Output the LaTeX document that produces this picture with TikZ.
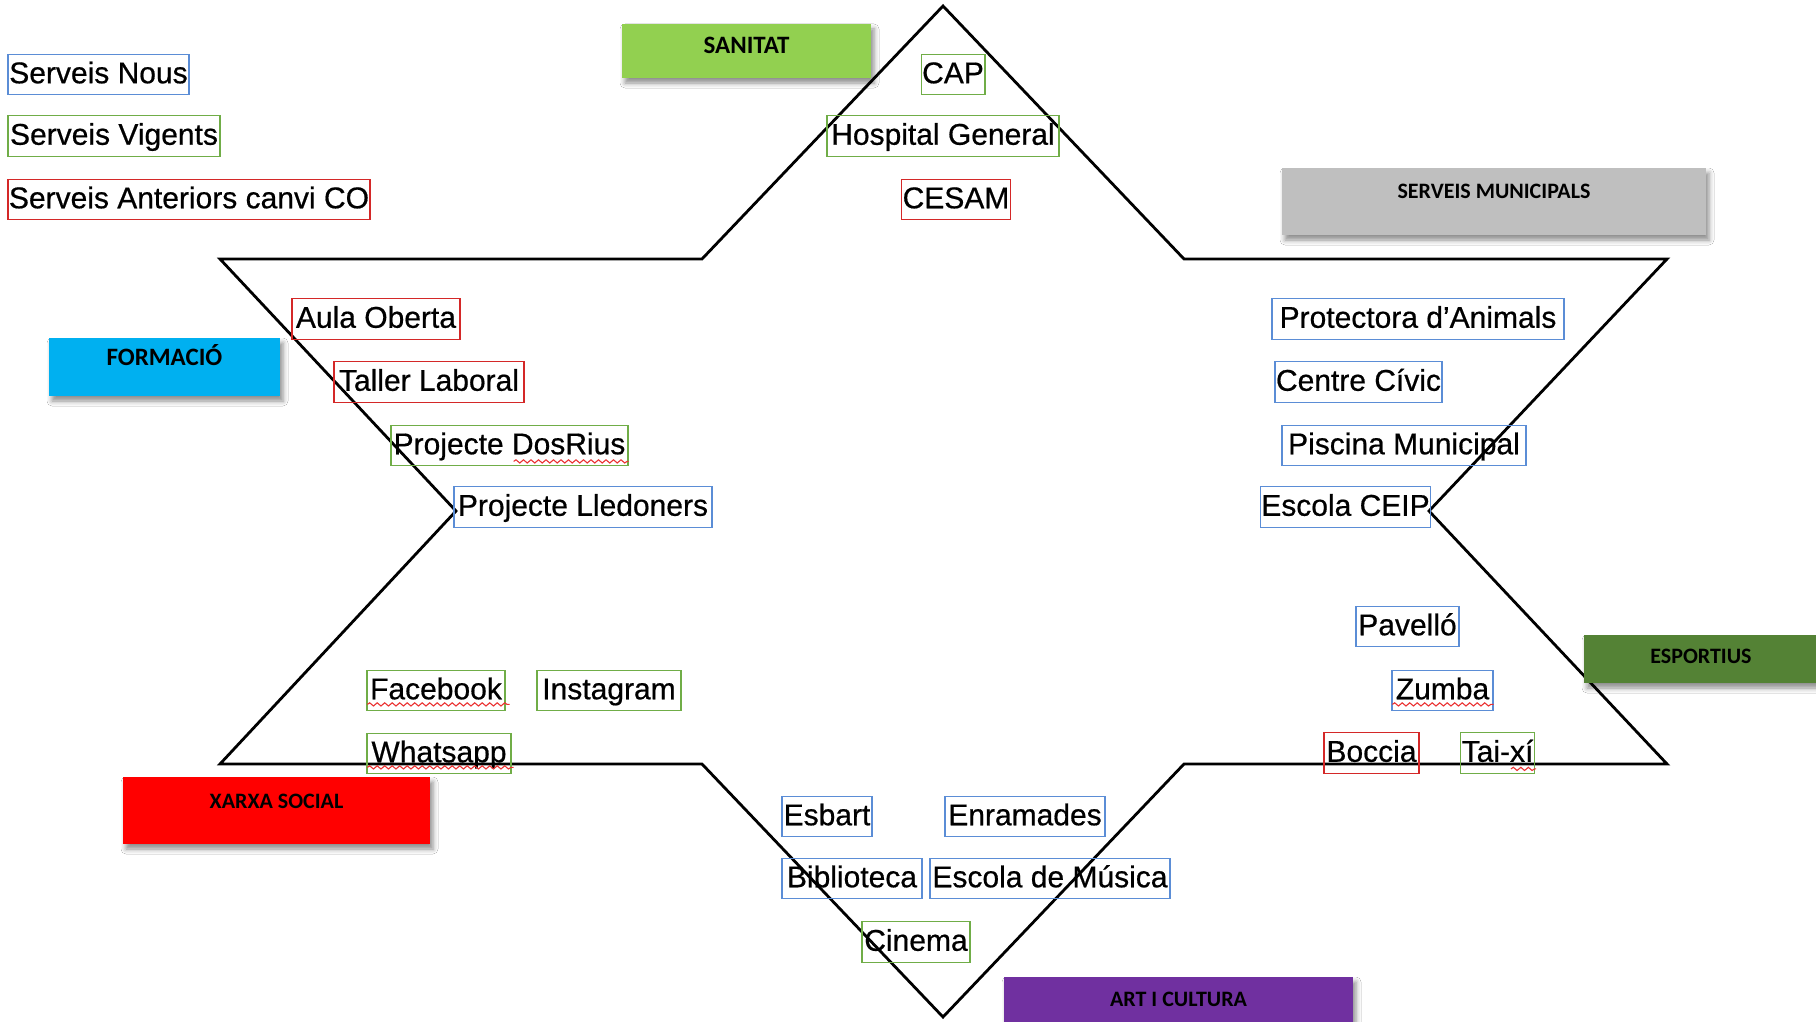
\documentclass[tikz,border=0pt]{standalone}
\usepackage{fontspec}
\setmainfont{Liberation Sans}
\newfontfamily\itemfont{Liberation Sans}[FakeBold=0.6]
\newfontfamily\catfont{Carlito}
\usetikzlibrary{calc,shadows.blur,decorations.pathmorphing}

\definecolor{nousblue}{RGB}{91,141,214}
\definecolor{viggreen}{RGB}{112,173,71}
\definecolor{antred}{RGB}{212,40,40}
\definecolor{squigred}{RGB}{235,50,50}
\definecolor{csanitat}{RGB}{146,208,80}
\definecolor{cmunic}{RGB}{191,191,191}
\definecolor{cformacio}{RGB}{0,176,240}
\definecolor{cesport}{RGB}{84,130,53}
\definecolor{cxarxa}{RGB}{255,0,0}
\definecolor{cart}{RGB}{112,48,160}

\begin{document}
\begin{tikzpicture}[x=1pt,y=-1pt,
  item/.style={draw, line width=1.3pt, inner xsep=1pt, inner ysep=4pt,
    text height=25pt, text depth=7.5pt, minimum height=40.5pt,
    font=\itemfont\fontsize{30}{36}\selectfont, anchor=center},
  nou/.style={item, draw=nousblue},
  vig/.style={item, draw=viggreen},
  ant/.style={item, draw=antred},
  catbox/.style={draw=none, inner sep=0pt,
    blur shadow={shadow xshift=3pt, shadow yshift=-5pt, shadow blur radius=5pt, shadow opacity=45}},
  cattext/.style={font=\catfont\bfseries\fontsize{22}{26}\selectfont, inner sep=0pt, anchor=base},
  bigcat/.style={cattext, font=\catfont\bfseries\fontsize{25}{30}\selectfont},
  squig/.style={draw=squigred, line width=1.1pt, decorate,
    decoration={snake, amplitude=1.6pt, segment length=7.5pt}},
  starline/.style={draw=black, line width=2.8pt, line join=miter}
]
\fill[white] (0,0) rectangle (1816,1022);
\useasboundingbox (0,0) rectangle (1816,1022);
\clip (0,0) rectangle (1816,1022);

% star outline
\coordinate (s1) at (943,6);
\coordinate (s2) at (702,259);
\coordinate (s3) at (220,259);
\coordinate (s4) at (456,511);
\coordinate (s5) at (220,764);
\coordinate (s6) at (702,764);
\coordinate (s7) at (943,1017);
\coordinate (s8) at (1184,764);
\coordinate (s9) at (1667,764);
\coordinate (s10) at (1429,511);
\coordinate (s11) at (1667,259);
\coordinate (s12) at (1184,259);
\draw[starline] (s1) -- (s2) -- (s3) -- (s4) -- (s5) -- (s6) -- (s7) -- (s8) -- (s9) -- (s10) -- (s11) -- (s12) -- cycle;

% legend
\node[nou, minimum width=181pt] (lnous) at (98.5,74.5) {Serveis Nous};
\node[vig, minimum width=212pt] (lvig) at (114,136) {Serveis Vigents};
\node[ant, minimum width=362pt] (lant) at (189,199.5) {Serveis Anteriors canvi CO};

% sanitat
\node[vig, minimum width=60pt] (cap) at (953,74.5) {CAP};
\node[vig, minimum width=232pt] (hosp) at (943,136) {Hospital General};
\node[ant, minimum width=102pt] (cesam) at (956,199.5) {CESAM};

% formacio
\node[ant, minimum width=168pt] (aula) at (376,319) {Aula Oberta};
\node[ant, minimum width=190pt] (taller) at (429,382) {Taller Laboral};
\node[vig, minimum width=237pt] (dosrius) at (509.5,445.5) {Projecte DosRius};
\node[nou, minimum width=258pt] (lledoners) at (583,507) {Projecte Lledoners};

% serveis municipals
\node[nou, minimum width=292pt] (protectora) at (1418,319) {Protectora d’Animals};
\node[nou, minimum width=165pt] (civic) at (1358.5,382) {Centre Cívic};
\node[nou, minimum width=244pt] (piscina) at (1404,445.5) {Piscina Municipal};
\node[nou, minimum width=163pt] (ceip) at (1345.5,507) {Escola CEIP};

% esportius
\node[nou, minimum width=103pt] (pavello) at (1407.5,626.5) {Pavelló};
\node[nou, minimum width=101pt] (zumba) at (1442.5,690.5) {Zumba};
\node[ant, minimum width=95pt] (boccia) at (1371.5,753) {Boccia};
\node[vig, minimum width=73pt] (taixi) at (1497.5,753) {Tai-xí};

% xarxa social
\node[vig, minimum width=138pt] (facebook) at (436,690.5) {Facebook};
\node[vig, minimum width=144pt] (instagram) at (609,690.5) {Instagram};
\node[vig, minimum width=144pt] (whatsapp) at (439,753.5) {Whatsapp};

% art i cultura
\node[nou, minimum width=90pt] (esbart) at (827,816.5) {Esbart};
\node[nou, minimum width=160pt] (enramades) at (1025,816.5) {Enramades};
\node[nou, minimum width=140pt] (biblioteca) at (852,878.5) {Biblioteca};
\node[nou, minimum width=240pt] (musica) at (1050,878.5) {Escola de Música};
\node[vig, minimum width=108pt] (cinema) at (916,942) {Cinema};

% spell-check underlines
\draw[squig] ($(dosrius.south east)+(-115,-5)$) -- ($(dosrius.south east)+(0,-5)$);
\draw[squig] ($(facebook.south west)+(1,-7)$) -- ($(facebook.south east)+(4,-7)$);
\draw[squig] ($(whatsapp.south west)+(1,-7)$) -- ($(whatsapp.south east)+(2,-7)$);
\draw[squig] ($(zumba.south west)+(1,-7)$) -- ($(zumba.south east)+(0,-7)$);
\draw[squig] ($(taixi.south east)+(-24,-5)$) -- ($(taixi.south east)+(1,-5)$);

% category boxes
\node[catbox, fill=csanitat, minimum width=249pt, minimum height=54pt] (sanitat) at (746.5,51) {};
\node[bigcat] (tsanitat) at ($(sanitat.north)+(0,30)$) {SANITAT};

\node[catbox, fill=cmunic, minimum width=424pt, minimum height=67pt] (munic) at (1494,201.5) {};
\node[cattext] (tmunic) at ($(munic.north)+(0,31)$) {SERVEIS MUNICIPALS};

\node[catbox, fill=cformacio, minimum width=231pt, minimum height=58pt] (formacio) at (164.5,367) {};
\node[bigcat] (tformacio) at ($(formacio.north)+(0,28)$) {FORMACIÓ};

\node[catbox, fill=cesport, minimum width=234pt, minimum height=48pt] (esport) at (1701,659) {};
\node[cattext] (tesport) at ($(esport.north)+(0,29)$) {ESPORTIUS};

\node[catbox, fill=cxarxa, minimum width=307pt, minimum height=67pt] (xarxa) at (276.5,810.5) {};
\node[cattext] (txarxa) at ($(xarxa.north)+(0,32)$) {XARXA SOCIAL};

\node[catbox, fill=cart, minimum width=349pt, minimum height=60pt] (art) at (1178.5,1007) {};
\node[cattext] (tart) at ($(art.north)+(0,30)$) {ART I CULTURA};
\end{tikzpicture}
\end{document}
